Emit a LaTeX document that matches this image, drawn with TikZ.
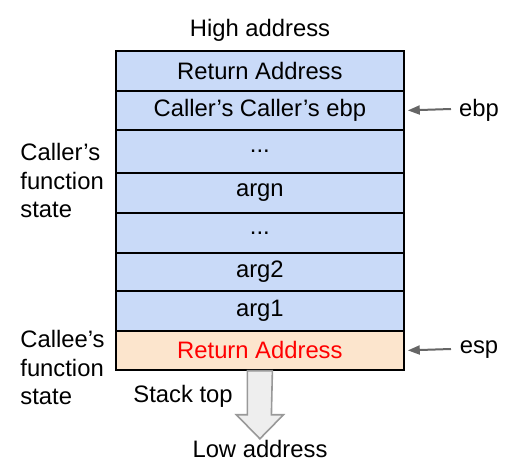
\documentclass[tikz,border=0pt]{standalone}
\usepackage{fontspec}
\setmainfont{Liberation Sans}
\usetikzlibrary{arrows.meta}
\definecolor{rowblue}{HTML}{C9DAF8}
\definecolor{roworange}{HTML}{FCE5CD}
\definecolor{ptrgray}{HTML}{666666}
\definecolor{arrowfill}{HTML}{EEEEEE}
\definecolor{arrowedge}{HTML}{999999}
\begin{document}
\begin{tikzpicture}[x=0.5pt,y=-0.5pt,
  every node/.style={font=\fontsize{11.9}{14.3}\selectfont, inner sep=0pt},
  cell/.style={draw=black, line width=0.9pt, fill=rowblue, minimum width=144pt, anchor=north west},
  calleecell/.style={cell, fill=roworange, text=red},
  ptr/.style={draw=ptrgray, line width=1pt, -{Triangle[length=6pt,width=4.5pt]}},
  side/.style={align=left, anchor=north west},
  bigarrow/.style={draw=arrowedge, fill=arrowfill, line width=0.8pt, line join=miter}
]
\useasboundingbox (0,0) rectangle (511,470);
\node[cell, minimum height=20pt]   (r1) at (115,50)  {Return Address};
\node[cell, minimum height=19.5pt] (r2) at (115,90)  {Caller’s Caller’s ebp};
\node[cell, minimum height=21.5pt] (r3) at (115,129) {...};
\node[cell, minimum height=20pt]   (r4) at (115,172) {argn};
\node[cell, minimum height=20pt]   (r5) at (115,212) {...};
\node[cell, minimum height=19pt]   (r6) at (115,252) {arg2};
\node[cell, minimum height=20pt]   (r7) at (115,290) {arg1};
\node[calleecell, minimum height=19.5pt] (r8) at (115,330) {Return Address};

\node (high) at (260,30) {High address};
\node (low) at (260,449) {Low address};
\node (top) at (183,396) {Stack top};

\node[side] (callerlbl) at (20,143) {Caller’s\\function\\state};
\node[side] (calleelbl) at (20,330) {Callee’s\\function\\state};

\node (ebp) at (479,110) {ebp};
\node (esp) at (479,350) {esp};
\coordinate (ebpstart) at (451,109);
\coordinate (espstart) at (451,349);
\draw[ptr] (ebpstart) -- ([xshift=1.5pt]r2.east);
\draw[ptr] (espstart) -- ([xshift=1.5pt]r8.east);

\draw[bigarrow] ([xshift=-6.25pt]r8.south) -- ++(0,44) -- ++(-11,0) -- ([yshift=-34pt]r8.south) -- ++(23.5,-24) -- ++(-12,0) -- ([xshift=6.25pt]r8.south) -- cycle;
\end{tikzpicture}
\end{document}
